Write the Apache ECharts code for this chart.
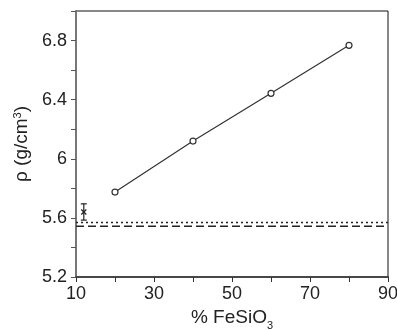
<!DOCTYPE html>
<html>
<head>
<meta charset="utf-8">
<script src="https://cdn.jsdelivr.net/npm/echarts@6/dist/echarts.min.js"></script>
<style>
  html, body { margin: 0; padding: 0; background: #fff; }
  #chart { width: 397px; height: 330px; }
</style>
</head>
<body>
<div id="chart"></div>
<script>
// composition (% FeSiO3) vs density
const fesio3 = [20, 40, 60, 80];
const density = [5.775, 6.12, 6.443, 6.768];

// measured point with error bar
const measX = 12;
const measY = 5.64;
const measErr = 0.055;

// horizontal reference levels
const refDotted = 5.568;
const refDashed = 5.543;

const xLabels = [10, 30, 50, 70, 90];
const yLabels = [5.2, 5.6, 6, 6.4, 6.8];

const chart = echarts.init(document.getElementById("chart"));
const font = "Liberation Sans";

chart.setOption({
  animation: false,
  grid: {
    left: 76,
    right: 9,
    top: 11,
    bottom: 53,
    outerBoundsMode: "none",
    containLabel: false,
    show: true,
    borderColor: "#111",
    borderWidth: 1,
  },
  xAxis: {
    type: "value",
    min: 10,
    max: 90,
    interval: 10,
    name: "{a|% FeSiO}{sub|3}",
    nameLocation: "middle",
    nameGap: 30,
    nameTextStyle: {
      rich: {
        a: { fontFamily: font, fontSize: 19, color: "#222", verticalAlign: "bottom" },
        sub: { fontFamily: font, fontSize: 11, color: "#222", verticalAlign: "bottom", padding: [0, 0, -5, 0] },
      },
    },
    axisLine: { lineStyle: { color: "#333", width: 1.5 } },
    axisTick: { show: true, inside: false, length: 5, lineStyle: { color: "#333" } },
    axisLabel: {
      margin: 8,
      fontFamily: font,
      fontSize: 18,
      color: "#222",
      formatter: (v) => (xLabels.includes(Math.round(v)) ? String(v) : ""),
    },
    splitLine: { show: false },
  },
  yAxis: {
    type: "value",
    min: 5.2,
    max: 7.0,
    interval: 0.2,
    name: "{a|ρ (g/cm}{sup|3}{a|)}",
    nameLocation: "middle",
    nameGap: 37,
    nameTextStyle: {
      rich: {
        a: { fontFamily: font, fontSize: 19, color: "#222" },
        sup: { fontFamily: font, fontSize: 11, color: "#222", verticalAlign: "top", padding: [0, 0, 8, 0] },
      },
    },
    axisLine: { lineStyle: { color: "#777", width: 2 } },
    axisTick: { show: true, inside: false, length: 5, lineStyle: { color: "#555" } },
    axisLabel: {
      margin: 9,
      fontFamily: font,
      fontSize: 18,
      color: "#222",
      formatter: (v) => {
        const r = Math.round(v * 10) / 10;
        return yLabels.includes(r) ? String(r) : "";
      },
    },
    splitLine: { show: false },
  },
  series: [
    {
      name: "fit",
      type: "line",
      data: fesio3.map((x, i) => [x, density[i]]),
      symbol: "circle",
      symbolSize: 6,
      showSymbol: true,
      lineStyle: { color: "#333", width: 1.2 },
      itemStyle: { color: "#fff", borderColor: "#333", borderWidth: 1.2 },
      z: 3,
    },
    {
      name: "dotted",
      type: "line",
      data: [[10, refDotted], [90, refDotted]],
      symbol: "none",
      lineStyle: { color: "#222", width: 1.5, type: [2, 3] },
    },
    {
      name: "dashed",
      type: "line",
      data: [[10, refDashed], [90, refDashed]],
      symbol: "none",
      lineStyle: { color: "#222", width: 1.5, type: [8, 4] },
    },
    {
      name: "measured",
      type: "custom",
      data: [[measX, measY, measErr]],
      renderItem: (params, api) => {
        const x = api.value(0), y = api.value(1), e = api.value(2);
        const c = api.coord([x, y]);
        const top = api.coord([x, y + e]);
        const bot = api.coord([x, y - e]);
        const cap = 3, m = 2.5;
        const style = { stroke: "#222", lineWidth: 1.2 };
        return {
          type: "group",
          children: [
            { type: "line", shape: { x1: top[0], y1: top[1], x2: bot[0], y2: bot[1] }, style },
            { type: "line", shape: { x1: top[0] - cap, y1: top[1], x2: top[0] + cap, y2: top[1] }, style },
            { type: "line", shape: { x1: bot[0] - cap, y1: bot[1], x2: bot[0] + cap, y2: bot[1] }, style },
            { type: "line", shape: { x1: c[0] - m, y1: c[1] - m, x2: c[0] + m, y2: c[1] + m }, style },
            { type: "line", shape: { x1: c[0] - m, y1: c[1] + m, x2: c[0] + m, y2: c[1] - m }, style },
          ],
        };
      },
    },
  ],
});
</script>
</body>
</html>
